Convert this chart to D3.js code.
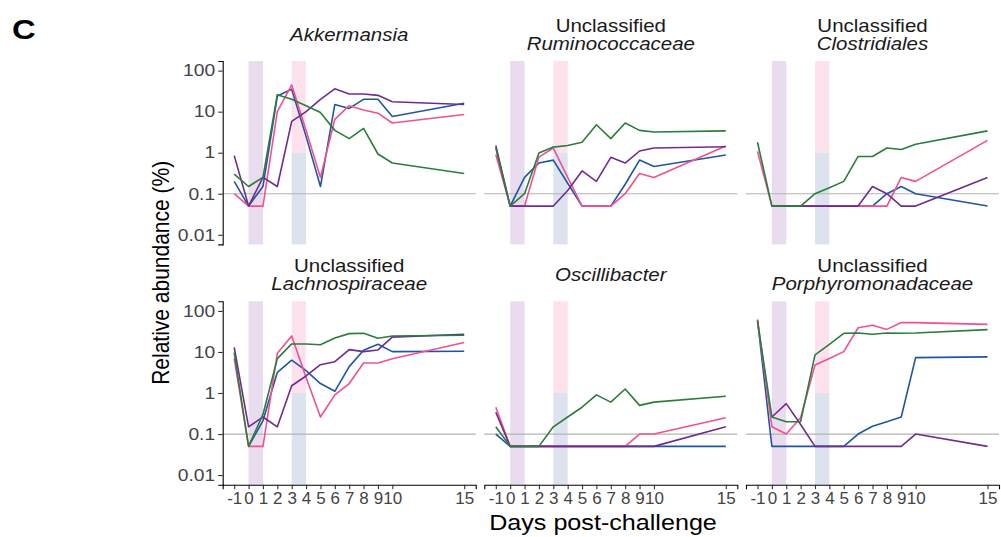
<!DOCTYPE html>
<html><head><meta charset="utf-8">
<script src="https://cdn.jsdelivr.net/npm/d3@7"></script>
<style>body{margin:0;background:#fff}svg{display:block}text{font-family:"Liberation Sans",Arial,sans-serif}</style>
</head><body>
<script>
const days = [-1,0,1,2,3,4,5,6,7,8,9,10,15];
const xTickLabels = ["-1","0","1","2","3","4","5","6","7","8","9","10","15"];
const yTickValues = [0.01,0.1,1,10,100];
const yTickLabels = ["0.01","0.1","1","10","100"];
const seriesNames = ["blue","pink","purple","green"];
const seriesColors = ["#2055a5","#f2508f","#6e2c91","#2a7d3b"];

// Akkermansia
const akkBlue   = [0.2,0.05,0.15,24,35,2.5,0.15,15,12,20,20,7.6,16];
const akkPink   = [0.1,0.05,0.05,10,45,3.5,0.25,6.5,14,11,9.2,5.3,8.5];
const akkPurple = [0.85,0.05,0.25,0.15,5.8,10,20,36,27,27,25,17.5,15];
const akkGreen  = [0.3,0.15,0.25,26,20,14,9.5,3.5,2.2,3.9,0.93,0.56,0.31];
// Unclassified Ruminococcaceae
const rumBlue   = [null,0.05,0.25,0.56,0.66,0.18,0.05,0.05,0.05,0.17,0.66,0.46,0.88];
const rumPink   = [0.9,0.05,0.05,0.78,1.3,0.25,0.05,0.05,0.05,0.1,0.31,0.25,1.45];
const rumPurple = [1.5,0.05,0.05,0.05,0.05,0.12,0.36,0.2,0.77,0.56,1.1,1.3,1.4];
const rumGreen  = [1.3,0.05,0.1,0.98,1.37,1.5,1.8,4.8,2.2,5.3,3.5,3.2,3.4];
// Unclassified Clostridiales
const cloBlue   = [null,0.05,0.05,0.05,0.05,0.05,0.05,0.05,0.05,0.1,0.15,0.1,0.05];
const cloPink   = [1.08,0.05,0.05,0.05,0.05,0.05,0.05,0.05,0.05,0.05,0.25,0.2,2.0];
const cloPurple = [null,0.05,0.05,0.05,0.05,0.05,0.05,0.05,0.15,0.1,0.05,0.05,0.25];
const cloGreen  = [1.8,0.05,0.05,0.05,0.1,0.14,0.2,0.81,0.81,1.3,1.2,1.6,3.4];
// Unclassified Lachnospiraceae
const lacBlue   = [null,0.05,0.21,3.2,6.3,3.5,1.7,1.1,4.4,11,15.4,10.2,10.4];
const lacPink   = [7,0.05,0.05,9.3,24.6,2.4,0.26,0.9,1.7,5.4,5.4,6.8,17];
const lacPurple = [13,0.15,0.26,0.15,1.5,2.6,4.9,5.8,11.4,10.2,11.2,23,27];
const lacGreen  = [9.7,0.05,0.3,6.9,15.7,15.7,15,22,28,28.5,21.5,24.6,25.5];
// Oscillibacter
const oscBlue   = [0.1,0.05,0.05,0.05,0.05,0.05,0.05,0.05,0.05,0.05,0.05,0.05,0.05];
const oscPink   = [0.45,0.05,0.05,0.05,0.05,0.05,0.05,0.05,0.05,0.05,0.1,0.1,0.25];
const oscPurple = [0.34,0.05,0.05,0.05,0.05,0.05,0.05,0.05,0.05,0.05,0.05,0.05,0.15];
const oscGreen  = [0.15,0.05,0.05,0.05,0.15,0.26,0.45,0.9,0.6,1.25,0.5,0.6,0.83];
// Unclassified Porphyromonadaceae
const porBlue   = [60,0.05,0.05,0.05,0.05,0.05,0.05,0.1,0.155,0.2,0.26,7.3,7.6];
const porPink   = [62,0.15,0.1,0.25,4.8,6.9,10.2,39,45,35.5,52,52,47];
const porPurple = [null,0.26,0.55,0.17,0.05,0.05,0.05,0.05,0.05,0.05,0.05,0.1,0.05];
const porGreen  = [57,0.26,0.2,0.2,8.5,15.4,28.5,29,27,29,28.5,29,35];

const panelTitles = [
  ["", "Akkermansia"],
  ["Unclassified", "Ruminococcaceae"],
  ["Unclassified", "Clostridiales"],
  ["Unclassified", "Lachnospiraceae"],
  ["", "Oscillibacter"],
  ["Unclassified", "Porphyromonadaceae"]
];
const panelSeries = [
  [akkBlue, akkPink, akkPurple, akkGreen],
  [rumBlue, rumPink, rumPurple, rumGreen],
  [cloBlue, cloPink, cloPurple, cloGreen],
  [lacBlue, lacPink, lacPurple, lacGreen],
  [oscBlue, oscPink, oscPurple, oscGreen],
  [porBlue, porPink, porPurple, porGreen]
];

const W = 1001, H = 537;
const SX = 1.17; // horizontal text stretch of the original figure
const svg = d3.select("body").append("svg").attr("width", W).attr("height", H);

const colX = [222.7, 484.3, 746];
const rowY = [61, 301.3];
const pw = 253, ph = 183.4;

const x = d3.scaleLinear().domain([-1.8, 15.8]).range([0, pw]);
const y = d3.scaleLog().domain([Math.pow(10,-2.235), Math.pow(10,2.235)]).range([ph, 0]);

function label(parent, tx, ty, txt, size, opts = {}) {
  const g = parent.append("g").attr("transform", `translate(${tx},${ty}) scale(${SX},1)`);
  const t = g.append("text").attr("x", 0).attr("y", 0).attr("font-size", size)
    .attr("text-anchor", opts.anchor || "middle").attr("fill", opts.fill || "#1a1a1a").text(txt);
  if (opts.italic) t.attr("font-style", "italic");
  if (opts.bold) t.attr("font-weight", "bold");
  return t;
}

label(svg, 12, 39, "C", 28, {anchor: "start", bold: true, fill: "#000"});

panelSeries.forEach((series, i) => {
  const col = i % 3, row = Math.floor(i / 3);
  const g = svg.append("g").attr("transform", `translate(${colX[col]},${rowY[row]})`);

  // shaded windows
  g.append("rect").attr("x", x(0)).attr("width", x(1) - x(0)).attr("y", 0).attr("height", ph).attr("fill", "#e8dcee");
  g.append("rect").attr("x", x(3)).attr("width", x(4) - x(3)).attr("y", 0).attr("height", y(1)).attr("fill", "#fde1ed");
  g.append("rect").attr("x", x(3)).attr("width", x(4) - x(3)).attr("y", y(1)).attr("height", ph - y(1)).attr("fill", "#dce2ee");

  // detection limit line
  g.append("line").attr("x1", 0).attr("x2", pw).attr("y1", y(0.1)).attr("y2", y(0.1))
    .attr("stroke", "#b3b3b3").attr("stroke-width", 1.2);

  const line = d3.line().defined(d => d[1] != null).x(d => x(d[0])).y(d => y(d[1]));
  series.forEach((vals, k) => {
    g.append("path").datum(days.map((d, j) => [d, vals[j]]))
      .attr("d", line).attr("fill", "none").attr("stroke", seriesColors[k])
      .attr("stroke-width", 1.6).attr("stroke-linejoin", "round");
  });

  // y axis
  if (col === 0) {
    const ya = g.append("g").call(d3.axisLeft(y).tickValues(yTickValues)
      .tickFormat((d, j) => yTickLabels[j]).tickSizeOuter(0).tickSize(4.5).tickPadding(3));
    ya.select(".domain").attr("stroke", "#000").attr("stroke-width", 1.1);
    ya.selectAll(".tick line").attr("stroke", "#333").attr("stroke-width", 1.1);
    ya.selectAll(".tick text").attr("font-size", 16.5).attr("fill", "#444")
      .attr("font-family", "Liberation Sans, Arial, sans-serif")
      .attr("x", -7.5 / SX).attr("transform", `scale(${SX},1)`);
  }
  // x axis
  if (row === 1) {
    const xa = g.append("g").attr("transform", `translate(0,${ph})`).call(d3.axisBottom(x).tickValues(days)
      .tickFormat((d, j) => xTickLabels[j]).tickSizeOuter(0).tickSize(4.5).tickPadding(3));
    xa.select(".domain").attr("stroke", "#000").attr("stroke-width", 1.1);
    xa.selectAll(".tick line").attr("stroke", "#333").attr("stroke-width", 1.1);
    xa.selectAll(".tick text").attr("font-size", 17).attr("fill", "#444")
      .attr("font-family", "Liberation Sans, Arial, sans-serif");
  }

  // titles
  const t = panelTitles[i];
  const cx = pw / 2;
  if (t[0]) {
    label(g, cx, -29, t[0], 17.5);
    label(g, cx, -11, t[1], 17.5, {italic: true});
  } else {
    label(g, cx, -20, t[1], 17.5, {italic: true});
  }
});

svg.append("g").attr("transform", `translate(169,${rowY[0] + (rowY[1] + ph - rowY[0]) / 2}) rotate(-90) scale(1,${SX})`)
  .append("text").attr("text-anchor", "middle").attr("font-size", 21).attr("fill", "#000").text("Relative abundance (%)");
label(svg, 603, 530, "Days post-challenge", 21.5, {fill: "#000"});
</script>
</body></html>
